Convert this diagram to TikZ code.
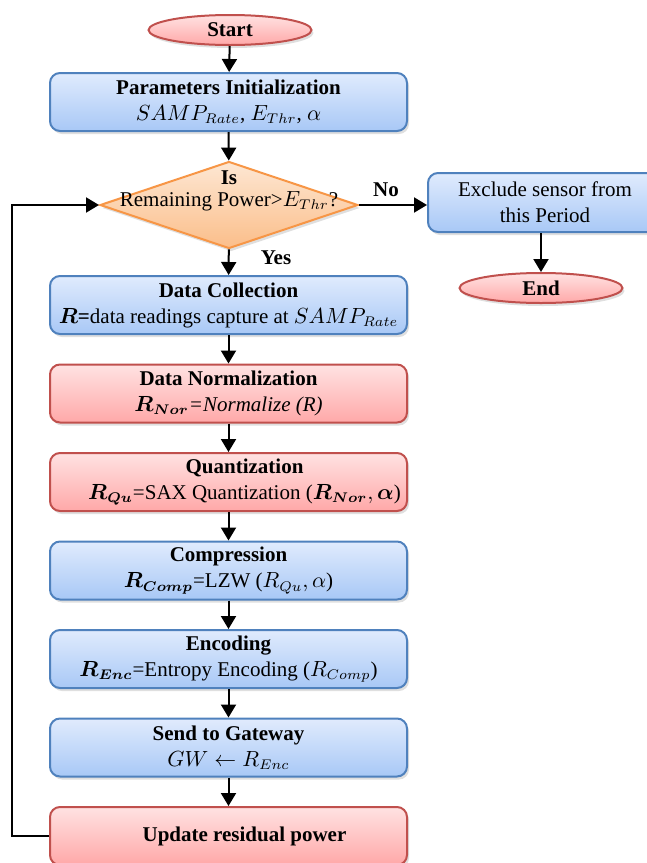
\documentclass[tikz,border=0pt]{standalone}
\usepackage{fontspec}
\setmainfont{Liberation Serif}
\usepackage{amsmath, amssymb}
\usepackage{bm}
\usepackage{tikz}
\usetikzlibrary{arrows.meta}
\usetikzlibrary{positioning}
\usetikzlibrary{shapes.geometric}
\usetikzlibrary{shadows}
\definecolor{bl_top}{HTML}{E0EBFD}
\definecolor{bl_bot}{HTML}{A8C8F6}
\definecolor{bl_brd}{HTML}{4F81BD}
\definecolor{rd_top}{HTML}{FFE2E2}
\definecolor{rd_bot}{HTML}{FFA8A8}
\definecolor{rd_brd}{HTML}{C0504D}
\definecolor{or_top}{HTML}{FDE7D3}
\definecolor{or_bot}{HTML}{FBBE8A}
\definecolor{or_brd}{HTML}{F79646}
\tikzset{
  stepnode/.style = {align=center, inner sep=0pt, text centered,
    font=\fontsize{10.5}{13}\selectfont, line width=1pt,
    drop shadow={opacity=0.25, shadow xshift=1pt, shadow yshift=-1.5pt}},
  box_b/.style = {stepnode, rectangle, rounded corners=5pt, draw=bl_brd,
    top color=bl_top, bottom color=bl_bot,
    minimum width=178.5pt, minimum height=29pt},% boite bleue
  box_r/.style = {stepnode, rectangle, rounded corners=5pt, draw=rd_brd,
    top color=rd_top, bottom color=rd_bot,
    minimum width=178.5pt, minimum height=29pt},% boite rouge
  term/.style = {stepnode, ellipse, draw=rd_brd, top color=rd_top,
    bottom color=rd_bot, minimum width=81.5pt, minimum height=15pt,
    font=\fontsize{10.5}{13}\selectfont\bfseries},% debut / fin
  dec/.style = {stepnode, diamond, draw=or_brd, top color=or_top,
    bottom color=or_bot, minimum width=129pt, minimum height=43.5pt},% test
  flow/.style = {-{Triangle[length=6.5pt,width=7.5pt]}, line width=1pt}
}

\begin{document}
\begin{tikzpicture}[x=0.5pt,y=-0.5pt,node distance=14.25pt]
\useasboundingbox (0,0) rectangle (647,863);
\clip (0,0) rectangle (647,863);

\node [term] (start) at (230,30) {Start};
\node [box_b] (init) at (228.5,102) {\textbf{Parameters Initialization}\\
  $SAMP_{Rate}$, $E_{Thr}$, $\alpha$};
\node [dec, label={[align=center, font=\fontsize{10.5}{11}\selectfont,
  yshift=7pt]center:{\textbf{Is}\\Remaining Power>$E_{Thr}$?}}] (test) at (229,205) {};

\node [box_b] (coll) at (228.5,305) {\textbf{Data Collection}\\
  $\bm{R}$\textbf{=}data readings capture at $SAMP_{Rate}$};
\node [box_r, below=of coll] (norm) {\textbf{Data Normalization}\\
  $\bm{R}_{\bm{Nor}}$\textit{=Normalize (R)}};
\node [box_r, below=of norm] (quant) {\hspace*{16pt}\textbf{Quantization}\\
  \hspace*{16pt}$\bm{R}_{\bm{Qu}}$=SAX Quantization ($\bm{R}_{\bm{Nor}}, \bm{\alpha}$)};
\node [box_b, below=of quant] (comp) {\textbf{Compression}\\
  $\bm{R}_{\bm{Comp}}$=LZW ($R_{Qu}, \alpha$)};
\node [box_b, below=of comp] (enc) {\textbf{Encoding}\\
  $\bm{R}_{\bm{Enc}}$=Entropy Encoding ($R_{Comp}$)};
\node [box_b, below=of enc] (send) {\textbf{Send to Gateway}\\
  $GW \leftarrow R_{Enc}$};
\node [box_r, below=of send] (upd) {\hspace*{16pt}\textbf{Update residual power}};

\node [box_b] (excl) at (545,202.5) [minimum width=117pt, minimum height=29.5pt]
  {Exclude sensor from\\this Period};
\node [term] (end) at (541,288) {End};

\node at (276,258) {\fontsize{10.5}{13}\selectfont\bfseries Yes};
\node at (386,190) {\fontsize{10.5}{13}\selectfont\bfseries No};

\draw [flow] (start) -- (init);
\draw [flow] (init) -- (test);
\draw [flow] (test) -- (coll);
\draw [flow] (coll) -- (norm);
\draw [flow] (norm) -- (quant);
\draw [flow] (quant) -- (comp);
\draw [flow] (comp) -- (enc);
\draw [flow] (enc) -- (send);
\draw [flow] (send) -- (upd);
\draw [flow] (test.east) -- (excl.west |- test.east);
\draw [flow] (end.north |- excl.south) -- (end.north);
\draw [flow] (upd.west) -- ++(-37,0) |- (test.west);
\end{tikzpicture}
\end{document}
